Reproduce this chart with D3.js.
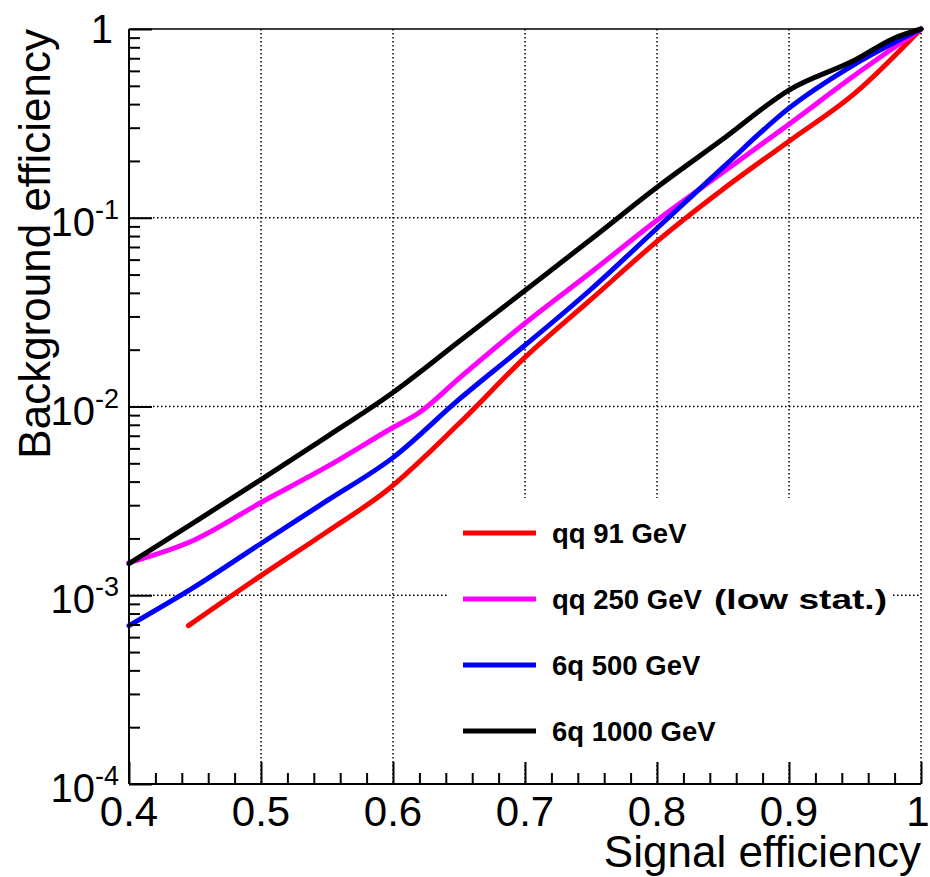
<!DOCTYPE html>
<html>
<head>
<meta charset="utf-8">
<script src="https://cdn.jsdelivr.net/npm/d3@7"></script>
<style>
  html, body { margin: 0; padding: 0; background: #fff; }
  svg { display: block; }
  text { font-family: "Liberation Sans", Arial, Helvetica, sans-serif; fill: #000; }
</style>
</head>
<body>
<svg id="chart" width="930" height="877"></svg>
<script>
// ---- data ----
const seriesNames = ["qq 91 GeV", "qq 250 GeV (low stat.)", "6q 500 GeV", "6q 1000 GeV"];
const seriesColors = ["#ff0000", "#ff00ff", "#0000ff", "#000000"];

const qq91_sig = [0.445, 0.50, 0.55, 0.595, 0.65, 0.70, 0.75, 0.80, 0.85, 0.90, 0.95, 1.00];
const qq91_bkg = [6.9e-4, 1.27e-3, 2.17e-3, 3.58e-3, 8.12e-3, 0.0182, 0.0369, 0.075, 0.1416, 0.2545, 0.457, 1.0];

const qq250_sig = [0.40, 0.45, 0.50, 0.55, 0.60, 0.62, 0.65, 0.70, 0.75, 0.80, 0.85, 0.90, 0.95, 1.00];
const qq250_bkg = [1.49e-3, 1.97e-3, 3.10e-3, 4.8e-3, 7.74e-3, 9.3e-3, 0.0141, 0.0276, 0.0514, 0.097, 0.174, 0.313, 0.570, 1.0];

const q6_500_sig = [0.40, 0.45, 0.50, 0.55, 0.60, 0.65, 0.70, 0.75, 0.80, 0.85, 0.90, 0.95, 1.00];
const q6_500_bkg = [6.9e-4, 1.11e-3, 1.88e-3, 3.17e-3, 5.36e-3, 0.0109, 0.0211, 0.0418, 0.088, 0.185, 0.381, 0.652, 1.0];

const q6_1000_sig = [0.40, 0.45, 0.50, 0.55, 0.60, 0.65, 0.70, 0.75, 0.80, 0.85, 0.90, 0.95, 0.98, 1.00];
const q6_1000_bkg = [1.47e-3, 2.45e-3, 4.10e-3, 6.93e-3, 0.01187, 0.0221, 0.0412, 0.0769, 0.145, 0.261, 0.475, 0.685, 0.896, 1.0];

const xTicks = [0.4, 0.5, 0.6, 0.7, 0.8, 0.9, 1.0];
const xTickLabels = ["0.4", "0.5", "0.6", "0.7", "0.8", "0.9", "1"];
const yTicks = [1e-4, 1e-3, 1e-2, 1e-1, 1];
const yTickExps = [-4, -3, -2, -1, 0];

const xTitle = "Signal efficiency";
const yTitle = "Background efficiency";

// ---- layout ----
const L = 129, R = 921, T = 29, B = 784;
const svg = d3.select("#chart");

const x = d3.scaleLinear().domain([0.4, 1.0]).range([L, R]);
const y = d3.scaleLog().domain([1e-4, 1]).range([B, T]);

// grid (dotted)
const grid = svg.append("g").attr("stroke", "#000").attr("stroke-width", 1.5)
  .attr("stroke-dasharray", "1.5,2.5");
xTicks.filter(v => v > 0.4).forEach(v => {
  grid.append("line").attr("x1", x(v)).attr("x2", x(v)).attr("y1", T).attr("y2", B);
});
yTicks.filter(v => v > 1e-4 && v < 1).forEach(v => {
  grid.append("line").attr("x1", L).attr("x2", R).attr("y1", y(v)).attr("y2", y(v));
});

// curves
const allSeries = [
  {sig: qq91_sig, bkg: qq91_bkg},
  {sig: qq250_sig, bkg: qq250_bkg},
  {sig: q6_500_sig, bkg: q6_500_bkg},
  {sig: q6_1000_sig, bkg: q6_1000_bkg}
];
const line = d3.line().x(d => x(d[0])).y(d => y(d[1])).curve(d3.curveMonotoneX);
allSeries.forEach((s, i) => {
  const pts = s.sig.map((v, j) => [v, s.bkg[j]]);
  svg.append("path").datum(pts).attr("d", line)
    .attr("fill", "none").attr("stroke", seriesColors[i])
    .attr("stroke-width", 5).attr("stroke-linejoin", "round").attr("stroke-linecap", "round");
});

// legend (white box without border)
const lg = svg.append("g");
lg.append("rect").attr("x", 447).attr("y", 498).attr("width", 446).attr("height", 264).attr("fill", "#fff");
const legendRowY = d3.scaleLinear().domain([0, 3]).range([533, 731]);
seriesNames.forEach((n, i) => {
  const yy = legendRowY(i);
  lg.append("line").attr("x1", 463).attr("x2", 536).attr("y1", yy).attr("y2", yy)
    .attr("stroke", seriesColors[i]).attr("stroke-width", 5);
  const t = lg.append("text").attr("x", 552).attr("y", yy + 10)
    .attr("font-size", 27.5).attr("font-weight", "bold");
  const m = n.match(/^(.*?)( \(.*\))?$/);
  t.append("tspan").text(m[1]);
  if (m[2]) {
    t.append("tspan").attr("x", 714).attr("textLength", 173).attr("lengthAdjust", "spacingAndGlyphs")
      .text(m[2].trim());
  }
});

// axes frame
svg.append("line").attr("x1", L).attr("x2", R).attr("y1", T).attr("y2", T).attr("stroke", "#000").attr("stroke-width", 1.5);
svg.append("line").attr("x1", L).attr("x2", L).attr("y1", T).attr("y2", B).attr("stroke", "#000").attr("stroke-width", 2);
svg.append("line").attr("x1", L).attr("x2", R).attr("y1", B).attr("y2", B).attr("stroke", "#000").attr("stroke-width", 2);

// x axis ticks
const xAxis = d3.axisBottom(x).tickValues(d3.range(0.4, 1.0001, 0.02).map(v => +v.toFixed(2)))
  .tickSize(0).tickFormat("");
const xg = svg.append("g").attr("transform", `translate(0,${B})`).call(xAxis);
xg.select(".domain").remove();
xg.selectAll(".tick").append("line")
  .attr("y1", 0)
  .attr("y2", d => (Math.abs(Math.round(d * 10) - d * 10) < 1e-6) ? -22 : -11)
  .attr("stroke", "#000").attr("stroke-width", 2);
xTicks.forEach((v, i) => {
  svg.append("text").attr("x", Math.min(x(v), 918)).attr("y", B + 42).attr("text-anchor", "middle")
    .attr("font-size", 42).text(xTickLabels[i]);
});

// y axis ticks (log)
const minorY = [];
for (let e = -4; e < 0; e++) for (let m = 1; m <= 9; m++) minorY.push(m * Math.pow(10, e));
minorY.push(1);
const yAxis = d3.axisLeft(y).tickValues(minorY).tickSize(0).tickFormat("");
const yg = svg.append("g").attr("transform", `translate(${L},0)`).call(yAxis);
yg.select(".domain").remove();
yg.selectAll(".tick").append("line")
  .attr("x1", 0)
  .attr("x2", d => (Math.abs(Math.log10(d) - Math.round(Math.log10(d))) < 1e-9) ? 23 : 11)
  .attr("stroke", "#000").attr("stroke-width", 2);
yTicks.forEach((v, i) => {
  const e = yTickExps[i];
  if (e === 0) {
    svg.append("text").attr("x", 113).attr("y", y(v) + 14).attr("text-anchor", "end")
      .attr("font-size", 40).text("1");
  } else {
    const t = svg.append("text").attr("x", 119).attr("y", y(v) + 18).attr("text-anchor", "end")
      .attr("font-size", 40);
    t.append("tspan").text("10");
    t.append("tspan").attr("font-size", 27).attr("dy", -17).text("-" + Math.abs(e));
  }
});

// axis titles
svg.append("text").attr("x", R).attr("y", 867).attr("text-anchor", "end")
  .attr("font-size", 44).text(xTitle);
svg.append("text").attr("transform", `translate(50,${T}) rotate(-90)`).attr("text-anchor", "end")
  .attr("font-size", 44).text(yTitle);
</script>
</body>
</html>
